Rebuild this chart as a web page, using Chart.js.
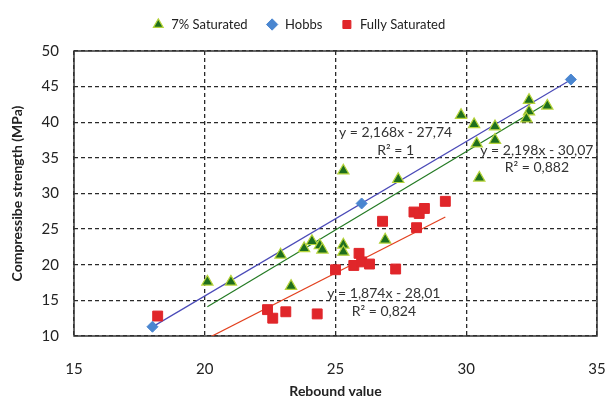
<!DOCTYPE html>
<html>
<head>
<meta charset="utf-8">
<script src="https://cdn.jsdelivr.net/npm/chart.js@4/dist/chart.umd.min.js"></script>
<style>
  html, body { margin: 0; padding: 0; background: #fff; }
  #wrap { width: 605px; height: 404px; }
</style>
</head>
<body>
<div id="wrap"><canvas id="chart"></canvas></div>
<script>
// values
var satX = [20.1, 21.0, 22.9, 23.3, 23.8, 24.1, 24.4, 24.5, 25.3, 25.3, 26.9, 25.3, 27.4, 29.8, 30.3, 30.4, 30.5, 31.1, 31.1, 32.4, 32.4, 32.3, 33.1];
var satY = [17.6, 17.6, 21.4, 17.0, 22.3, 23.3, 22.7, 22.1, 22.8, 21.8, 23.5, 33.2, 32.0, 41.0, 39.7, 37.0, 32.2, 39.4, 37.5, 43.1, 41.5, 40.5, 42.3];
var hobbsX = [18, 26, 34];
var hobbsY = [11.3, 28.6, 46.0];
var fullX = [18.2, 22.4, 22.6, 23.1, 24.3, 25.0, 25.7, 25.9, 26.0, 26.3, 27.3, 26.8, 28.0, 28.2, 28.4, 28.1, 29.2];
var fullY = [12.8, 13.7, 12.5, 13.4, 13.1, 19.3, 19.9, 21.6, 20.4, 20.1, 19.4, 26.1, 27.4, 27.2, 27.9, 25.2, 28.9];

// trendline end points
var hobbsLineX = [18, 34];
var hobbsLineY = [11.28, 45.97];
var satLineX = [20.1, 33.1];
var satLineY = [14.1, 42.7];
var fullLineX = [18.2, 29.2];
var fullLineY = [6.1, 26.7];

var xTicks = [15, 20, 25, 30, 35];
var yTicks = [10, 15, 20, 25, 30, 35, 40, 45, 50];

var noteText = ['y = 2,168x - 27,74', 'R\u00b2 = 1', 'y = 2,198x - 30,07', 'R\u00b2 = 0,882', 'y = 1,874x - 28,01', 'R\u00b2 = 0,824'];
var noteX = [27.3, 27.3, 32.7, 32.7, 26.85, 26.85];
var noteY = [38.5, 36.1, 36.1, 33.6, 16.0, 13.5];

function pts(xs, ys) {
    return xs.map(function (x, i) { return {x: x, y: ys[i]}; });
}

var FONT = 'Lato, "Open Sans", sans-serif';

var notesPlugin = {
    id: 'notes',
    beforeLayout: function (chart) {
        var lg = chart.legend;
        if (lg && !lg._patched) {
            var fit = lg.fit;
            lg.fit = function () { fit.call(this); this.height = 51; };
            lg._patched = true;
        }
    },
    beforeDatasetsDraw: function (chart) {
        var ctx = chart.ctx, a = chart.chartArea;
        ctx.save();
        ctx.strokeStyle = '#333';
        ctx.lineWidth = 1.5;
        ctx.strokeRect(a.left, a.top, a.right - a.left, a.bottom - a.top);
        ctx.restore();
    },
    afterDatasetsDraw: function (chart) {
        var ctx = chart.ctx;
        var xs = chart.scales.x, ys = chart.scales.y;
        ctx.save();
        ctx.font = '14px ' + FONT;
        ctx.fillStyle = '#333';
        ctx.textAlign = 'center';
        ctx.textBaseline = 'middle';
        noteText.forEach(function (t, i) {
            ctx.fillText(t, xs.getPixelForValue(noteX[i]), ys.getPixelForValue(noteY[i]));
        });
        ctx.restore();
    }
};

function noPad(s) {
    s.paddingLeft = 0; s.paddingRight = 0; s.paddingTop = 0; s.paddingBottom = 0;
}

var gridStyle = {color: '#2a2a2a', lineWidth: 1.3, drawTicks: false};

new Chart(document.getElementById('chart'), {
    type: 'scatter',
    data: {
        datasets: [{
            label: '7% Saturated',
            data: pts(satX, satY),
            pointStyle: 'triangle',
            pointRadius: 6.5,
            backgroundColor: '#1e6e1e',
            borderColor: '#b6d43a',
            borderWidth: 1.2,
            order: 1
        }, {
            label: 'Hobbs',
            data: pts(hobbsX, hobbsY),
            pointStyle: 'rectRot',
            pointRadius: 5.5,
            backgroundColor: '#4a86d0',
            borderColor: '#4a86d0',
            borderWidth: 1,
            order: 1
        }, {
            label: 'Fully Saturated',
            data: pts(fullX, fullY),
            pointStyle: 'rect',
            pointRadius: 7,
            backgroundColor: '#e0262a',
            borderColor: '#e0262a',
            borderWidth: 1,
            order: 1
        }, {
            label: 'trend-hobbs',
            data: pts(hobbsLineX, hobbsLineY),
            showLine: true,
            pointRadius: 0,
            borderColor: '#4b4bb8',
            borderWidth: 1.2,
            order: 2
        }, {
            label: 'trend-sat',
            data: pts(satLineX, satLineY),
            showLine: true,
            pointRadius: 0,
            borderColor: '#237a23',
            borderWidth: 1.2,
            order: 2
        }, {
            label: 'trend-full',
            data: pts(fullLineX, fullLineY),
            showLine: true,
            pointRadius: 0,
            borderColor: '#e2401e',
            borderWidth: 1.2,
            order: 2
        }]
    },
    options: {
        responsive: true,
        maintainAspectRatio: false,
        animation: false,
        layout: {padding: {top: 0, right: 8, left: 0, bottom: 0}},
        scales: {
            x: {
                type: 'linear',
                min: 15, max: 35,
                afterBuildTicks: function (s) { s.ticks = xTicks.map(function (v) { return {value: v}; }); },
                afterFit: function (s) { s.height = 68; noPad(s); },
                grid: gridStyle,
                border: {display: false, dash: [4, 3]},
                ticks: {padding: 24, color: '#222', font: {family: FONT, size: 15}},
                title: {
                    display: true, text: 'Rebound value', color: '#222',
                    font: {family: FONT, size: 14, weight: 'bold'}, padding: {top: 2}
                }
            },
            y: {
                type: 'linear',
                min: 10, max: 50,
                afterBuildTicks: function (s) { s.ticks = yTicks.map(function (v) { return {value: v}; }); },
                afterFit: function (s) { s.width = 74; noPad(s); },
                grid: gridStyle,
                border: {display: false, dash: [4, 3]},
                ticks: {padding: 15, color: '#222', font: {family: FONT, size: 15}},
                title: {
                    display: true, text: 'Compressibe strength (MPa)', color: '#222',
                    font: {family: FONT, size: 14, weight: 'bold'}, padding: {top: 9}
                }
            }
        },
        plugins: {
            legend: {
                position: 'top',
                labels: {
                    usePointStyle: true,
                    boxHeight: 8,
                    padding: 18,
                    color: '#222',
                    font: {family: FONT, size: 13},
                    filter: function (item) { return item.text.indexOf('trend') !== 0; }
                }
            },
            tooltip: {enabled: false}
        }
    },
    plugins: [notesPlugin]
});
</script>
</body>
</html>
